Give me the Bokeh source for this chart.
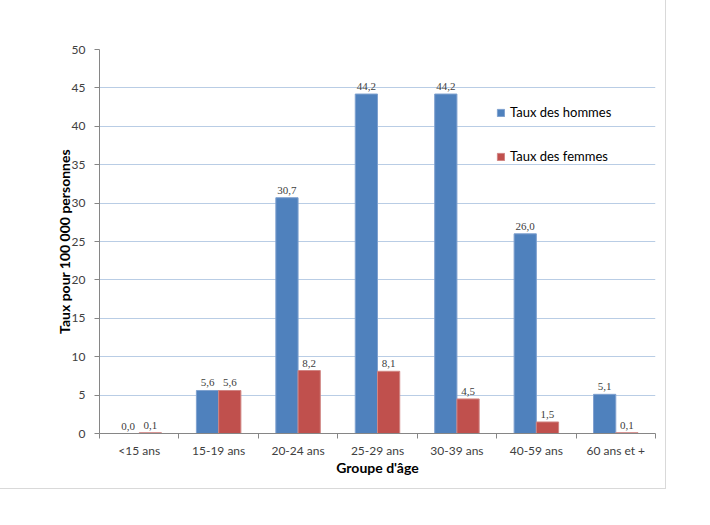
from bokeh.plotting import figure
from bokeh.models import ColumnDataSource, FixedTicker, LabelSet, Range1d, Legend
from bokeh.embed import file_html
from bokeh.resources import INLINE

categories = ["<15 ans", "15-19 ans", "20-24 ans", "25-29 ans", "30-39 ans", "40-59 ans", "60 ans et +"]
hommes = [0.0, 5.6, 30.7, 44.2, 44.2, 26.0, 5.1]
femmes = [0.1, 5.6, 8.2, 8.1, 4.5, 1.5, 0.1]
y_ticks = [0, 5, 10, 15, 20, 25, 30, 35, 40, 45, 50]

FONT = "Lato"
BLUE = "#4F81BD"
RED = "#C0504D"

n = len(categories)
centers = [i + 0.5 for i in range(n)]
bounds = [float(i) for i in range(n + 1)]
off = 0.14
bw = 0.28

def fmt(v):
    return ("%.1f" % v).replace(".", ",")

src_h = ColumnDataSource(dict(x=[c - off for c in centers], y=hommes, lab=[fmt(v) for v in hommes]))
src_f = ColumnDataSource(dict(x=[c + off for c in centers], y=femmes, lab=[fmt(v) for v in femmes]))

p = figure(width=666, height=489, output_backend="svg", toolbar_location=None,
           x_range=Range1d(0, n), y_range=Range1d(0, 50),
           min_border_left=99, min_border_right=11, min_border_top=49, min_border_bottom=56)
p.styles = {"border-right": "1px solid #D9D9D9", "border-bottom": "1px solid #D9D9D9"}
p.outline_line_color = None
p.background_fill_color = "white"
p.border_fill_color = "white"

rh = p.vbar(x="x", top="y", width=bw, source=src_h, fill_color=BLUE, line_color="#7FA1CF", line_width=1)
rf = p.vbar(x="x", top="y", width=bw, source=src_f, fill_color=RED, line_color="#D08583", line_width=1)

for src in (src_h, src_f):
    p.add_layout(LabelSet(x="x", y="y", text="lab", source=src, text_align="center",
                          text_baseline="bottom", y_offset=4, text_font=FONT,
                          text_font_size="11px", text_color="#404040"))

# axes
xa = p.xaxis[0]
xa.ticker = FixedTicker(ticks=centers, minor_ticks=bounds)
xa.major_label_overrides = {c: categories[i] for i, c in enumerate(centers)}
xa.major_tick_line_color = None
xa.major_tick_out = 0
xa.major_tick_in = 0
xa.minor_tick_out = 5
xa.minor_tick_in = 0
xa.minor_tick_line_color = "#868686"
xa.axis_line_color = "#868686"
xa.major_label_standoff = 4
xa.major_label_text_font = FONT
xa.major_label_text_font_size = "12px"
xa.major_label_text_color = "#404040"
xa.axis_label = "Groupe d'âge"
xa.axis_label_text_font = FONT
xa.axis_label_text_font_size = "14px"
xa.axis_label_text_font_style = "bold"
xa.axis_label_text_color = "#000000"
xa.axis_label_standoff = -2

ya = p.yaxis[0]
ya.ticker = FixedTicker(ticks=y_ticks, minor_ticks=[])
ya.axis_line_color = "#868686"
ya.major_tick_line_color = "#868686"
ya.major_tick_out = 5
ya.major_tick_in = 0
ya.minor_tick_line_color = None
ya.major_label_standoff = 9
ya.major_label_text_font = FONT
ya.major_label_text_font_size = "12px"
ya.major_label_text_color = "#404040"
ya.axis_label = "Taux pour 100 000 personnes"
ya.axis_label_text_font = FONT
ya.axis_label_text_font_size = "14px"
ya.axis_label_text_font_style = "bold"
ya.axis_label_text_color = "#000000"
ya.axis_label_standoff = -4

p.xgrid.grid_line_color = None
p.ygrid.ticker = FixedTicker(ticks=y_ticks)
p.ygrid.grid_line_color = "#B9CDE5"
p.ygrid.grid_line_width = 1

legend = Legend(items=[("Taux des hommes", [rh]), ("Taux des femmes", [rf])],
                location=(397, 267), orientation="vertical",
                glyph_width=9, glyph_height=9, label_height=20, label_standoff=5,
                spacing=24, padding=0, margin=0,
                label_text_font=FONT, label_text_font_size="13px", label_text_color="#000000",
                border_line_color=None, background_fill_alpha=0)
p.add_layout(legend)

open("out.html", "w").write(file_html(p, INLINE))
